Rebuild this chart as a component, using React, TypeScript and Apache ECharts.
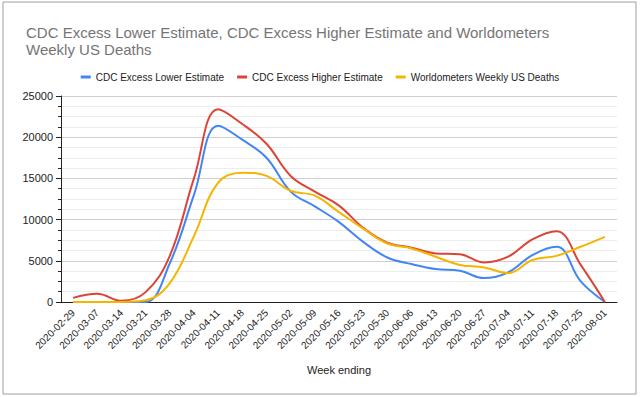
import React, { useEffect, useRef } from "react";
import * as echarts from "echarts";

const weeks = [
  "2020-02-29", "2020-03-07", "2020-03-14", "2020-03-21", "2020-03-28",
  "2020-04-04", "2020-04-11", "2020-04-18", "2020-04-25", "2020-05-02",
  "2020-05-09", "2020-05-16", "2020-05-23", "2020-05-30", "2020-06-06",
  "2020-06-13", "2020-06-20", "2020-06-27", "2020-07-04", "2020-07-11",
  "2020-07-18", "2020-07-25", "2020-08-01",
];
const lowerEstimate = [0, 0, 0, 0, 4700, 13000, 21400, 19700, 17500, 13400, 11600, 9700, 7300, 5400, 4600, 4000, 3800, 2900, 3600, 5700, 6700, 2500, 0];
const higherEstimate = [500, 1000, 150, 1200, 5600, 15000, 23400, 21600, 19200, 15300, 13400, 11700, 9000, 7200, 6600, 5900, 5800, 4800, 5500, 7600, 8600, 4500, 0];
const worldometers = [0, 0, 0, 200, 2300, 8000, 14500, 15700, 15300, 13500, 12900, 10900, 8900, 7100, 6500, 5500, 4500, 4200, 3500, 5100, 5600, 6700, 7900];
const yTicks = { min: 0, max: 25000, interval: 5000 };

const FONT = "Arial, 'Liberation Sans', sans-serif";

export default function App() {
  const ref = useRef<HTMLDivElement>(null);
  useEffect(() => {
    document.body.style.margin = "0";
    const chart = echarts.init(ref.current!, null, { renderer: "svg" });
    const mk = (name: string, data: number[], color: string) => ({
      name,
      type: "line",
      data,
      smooth: 0.4,
      showSymbol: false,
      symbol: "none",
      lineStyle: { color, width: 2 },
      itemStyle: { color },
    });
    chart.setOption({
      animation: false,
      backgroundColor: "#fff",
      title: {
        text: "CDC Excess Lower Estimate, CDC Excess Higher Estimate and Worldometers\nWeekly US Deaths",
        left: 21,
        top: 19,
        textStyle: { fontFamily: FONT, fontSize: 15, fontWeight: "normal", color: "#757575", lineHeight: 17 },
      },
      legend: {
        top: 67,
        left: "center",
        icon: "rect",
        itemWidth: 10,
        itemHeight: 3,
        itemGap: 13,
        textStyle: { fontFamily: FONT, fontSize: 10, color: "#222" },
        data: ["CDC Excess Lower Estimate", "CDC Excess Higher Estimate", "Worldometers Weekly US Deaths"],
      },
      graphic: [
        {
          type: "rect",
          shape: { x: 3, y: 2, width: 633, height: 392 },
          style: { fill: "none", stroke: "#9e9e9e", lineWidth: 1 },
          silent: true,
        },
      ],
      grid: { left: 61, right: 23, top: 96, bottom: 95 },
      xAxis: {
        type: "category",
        data: weeks,
        boundaryGap: true,
        name: "Week ending",
        nameLocation: "middle",
        nameGap: 62,
        nameTextStyle: { fontFamily: FONT, fontSize: 11, color: "#222" },
        axisLine: { lineStyle: { color: "#222", width: 1 } },
        axisTick: { alignWithLabel: true, length: 5, lineStyle: { color: "#444" } },
        axisLabel: { rotate: 45, fontFamily: FONT, fontSize: 10, color: "#222", margin: 9, interval: 0 },
        splitLine: { show: false },
      },
      yAxis: {
        type: "value",
        min: yTicks.min,
        max: yTicks.max,
        interval: yTicks.interval,
        axisLine: { show: true, lineStyle: { color: "#222", width: 1 } },
        axisTick: { show: true, length: 5, lineStyle: { color: "#222" } },
        minorTick: { show: true, splitNumber: 4, length: 3, lineStyle: { color: "#222" } },
        axisLabel: { fontFamily: FONT, fontSize: 11, color: "#222", margin: 8, formatter: (v: number) => String(v) },
        splitLine: { show: true, lineStyle: { color: "#d0d0d0", width: 1 } },
        minorSplitLine: { show: true, lineStyle: { color: "#ececec", width: 1 } },
      },
      series: [
        mk("CDC Excess Lower Estimate", lowerEstimate, "#4285F4"),
        mk("CDC Excess Higher Estimate", higherEstimate, "#DB4437"),
        mk("Worldometers Weekly US Deaths", worldometers, "#F4B400"),
      ],
    });
    return () => chart.dispose();
  }, []);
  return <div ref={ref} style={{ width: 640, height: 397 }} />;
}
